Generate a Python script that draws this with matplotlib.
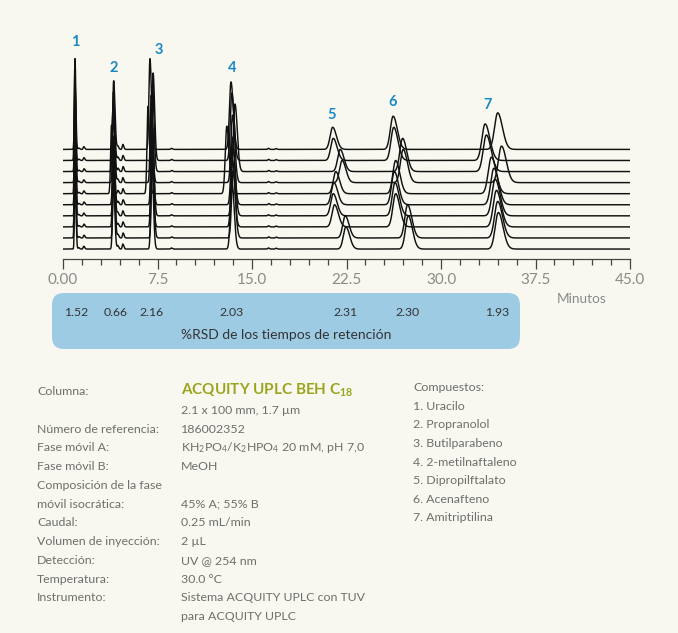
import numpy as np
import matplotlib.pyplot as plt
from matplotlib.patches import FancyBboxPatch
from matplotlib.ticker import MultipleLocator

plt.rcParams['font.family'] = ['Lato', 'DejaVu Sans']
plt.rcParams['mathtext.fontset'] = 'custom'
plt.rcParams['mathtext.rm'] = 'Lato'
plt.rcParams['mathtext.bf'] = 'Lato:bold'
plt.rcParams['mathtext.default'] = 'rm'

# retention times (min) per peak, one value per injection, top trace first
rt_p1 = [0.95, 0.93, 0.95, 0.96, 0.94, 0.95, 0.96, 0.95, 0.94, 0.96]
rt_p2 = [4.02, 4.00, 3.98, 4.01, 3.85, 4.00, 4.02, 4.00, 4.03, 4.00]
rt_p3 = [6.90, 7.15, 7.10, 7.00, 6.75, 7.05, 7.10, 7.05, 7.10, 7.05]
rt_p4 = [13.33, 13.40, 13.65, 13.45, 13.00, 13.45, 13.50, 13.45, 13.50, 13.40]
rt_p5 = [21.40, 21.45, 22.00, 22.15, 21.65, 21.50, 21.45, 21.55, 22.40, 22.45]
rt_p6 = [26.20, 26.25, 26.95, 27.00, 26.40, 26.30, 26.35, 26.40, 27.35, 27.40]
rt_p7 = [34.50, 33.50, 33.60, 34.80, 34.00, 34.20, 34.30, 34.40, 34.50, 34.55]
peak_rts = [rt_p1, rt_p2, rt_p3, rt_p4, rt_p5, rt_p6, rt_p7]

# peak heights (in trace-offset units) and widths (min)
peak_h = [8.2, 6.2, 8.2, 6.1, 2.0, 3.0, 3.3]
peak_w = [0.045, 0.07, 0.08, 0.12, 0.20, 0.22, 0.25]

# small impurity peaks present in every trace
small_rt = [1.25, 1.65, 4.35, 4.75, 8.6, 16.3, 16.9]
small_h = [0.12, 0.25, 0.30, 0.45, 0.10, 0.10, 0.08]

n_traces = len(rt_p1)

rsd_vals = ['1.52', '0.66', '2.16', '2.03', '2.31', '2.30', '1.93']
peak_names = ['1', '2', '3', '4', '5', '6', '7']

compounds = ['Uracilo', 'Propranolol', 'Butilparabeno', '2-metilnaftaleno',
             'Dipropilftalato', 'Acenafteno', 'Amitriptilina']

cond_labels = ['Columna:', '', 'Número de referencia:', 'Fase móvil A:',
               'Fase móvil B:', 'Composición de la fase', 'móvil isocrática:',
               'Caudal:', 'Volumen de inyección:', 'Detección:', 'Temperatura:',
               'Instrumento:', '']
cond_values = ['', '2.1 x 100 mm, 1.7 µm', '186002352',
               r'KH$_2$PO$_4$/K$_2$HPO$_4$ 20 mM, pH 7,0', 'MeOH', '', '45% A; 55% B',
               '0.25 mL/min', '2 µL', 'UV @ 254 nm', '30.0 °C',
               'Sistema ACQUITY UPLC con TUV', 'para ACQUITY UPLC']


def peak(t, rt, h, w):
    s = np.where(t < rt, w, 1.5 * w)
    return h * np.exp(-0.5 * ((t - rt) / s) ** 2)


bg = '#f8f8f0'
grey = '#6e6e6e'
blue = '#1a88c2'

fig = plt.figure(figsize=(6.78, 6.33), dpi=100, facecolor=bg)
W, H = 678, 633

# chromatogram axes (pixel layout)
px_per_unit = 11.07
ax = fig.add_axes([63 / W, 1 - 259 / H, 567 / W, 229 / H])
ax.set_facecolor('none')
ax.set_xlim(0, 45)
ax.set_ylim(-0.9, -0.9 + 229 / px_per_unit)

t = np.linspace(0, 45, 9001)
for i in range(n_traces):
    off = n_traces - 1 - i
    y = np.zeros_like(t)
    for k in range(len(peak_rts)):
        h = peak_h[k]
        if k == 2 and i > 0:
            h = 7.9
        y += peak(t, peak_rts[k][i], h, peak_w[k])
    for r, h in zip(small_rt, small_h):
        y += peak(t, r + 0.01 * (i % 3), h, 0.05)
    ax.plot(t, y + off, color='#111111', lw=1.05, zorder=3)

for s in ['top', 'right', 'left']:
    ax.spines[s].set_visible(False)
ax.spines['bottom'].set_color('#444444')
ax.spines['bottom'].set_linewidth(0.9)
ax.set_yticks([])
ax.xaxis.set_major_locator(MultipleLocator(7.5))
ax.xaxis.set_minor_locator(MultipleLocator(1.5))
ax.set_xticks([0, 7.5, 15, 22.5, 30, 37.5, 45])
ax.set_xticklabels(['0.00', '7.5', '15.0', '22.5', '30.0', '37.5', '45.0'])
ax.tick_params(axis='x', which='major', length=7, width=0.9, color='#444444',
               labelsize=11, labelcolor='#8a8a8a', pad=3)
ax.tick_params(axis='x', which='minor', length=4.5, width=0.9, color='#444444')

# overlay in pixel coordinates for the annotations
ov = fig.add_axes([0, 0, 1, 1])
ov.set_xlim(0, W)
ov.set_ylim(H, 0)
ov.axis('off')
ov.patch.set_visible(False)

label_xy = [(75, 42), (114, 68), (159, 50), (232, 68), (332, 115), (393, 102), (488, 105)]
for name, (x, y) in zip(peak_names, label_xy):
    ov.text(x, y, name, color=blue, fontsize=10.5, fontweight='bold',
            ha='center', va='center')

ov.text(582, 299, 'Minutos', color='#8a8a8a', fontsize=9.8, ha='center', va='center')

box = FancyBboxPatch((52 + 12, 293 + 12), 468 - 24, 56 - 24,
                     boxstyle='round,pad=12', fc='#9ecbe4', ec='none')
ov.add_patch(box)
rsd_x = [76, 116, 152, 232, 345, 407, 497]
for v, x in zip(rsd_vals, rsd_x):
    ov.text(x, 313, v, color='#333333', fontsize=8.8, ha='center', va='center')
ov.text(286, 335, '%RSD de los tiempos de retención', color='#333333',
        fontsize=10, ha='center', va='center')

# conditions block
y0, dy = 391.5, 18.76
for i, (lab, val) in enumerate(zip(cond_labels, cond_values)):
    y = y0 + i * dy
    if lab:
        ov.text(37, y, lab, color=grey, fontsize=8.9, ha='left', va='center')
    if val:
        ov.text(181, y, val, color=grey, fontsize=8.9, ha='left', va='center')
ov.text(181, y0 - 1, r'ACQUITY UPLC BEH C$_{\mathregular{18}}$', color='#9aa51e',
        fontsize=11, fontweight='bold', ha='left', va='center')

cy0, cdy = 387.7, 18.6
ov.text(413, cy0, 'Compuestos:', color=grey, fontsize=8.9, ha='left', va='center')
for i, c in enumerate(compounds):
    ov.text(413, cy0 + (i + 1) * cdy, f'{i + 1}. {c}', color=grey, fontsize=8.9,
            ha='left', va='center')

fig.savefig('out.png', dpi=100, facecolor=bg)
